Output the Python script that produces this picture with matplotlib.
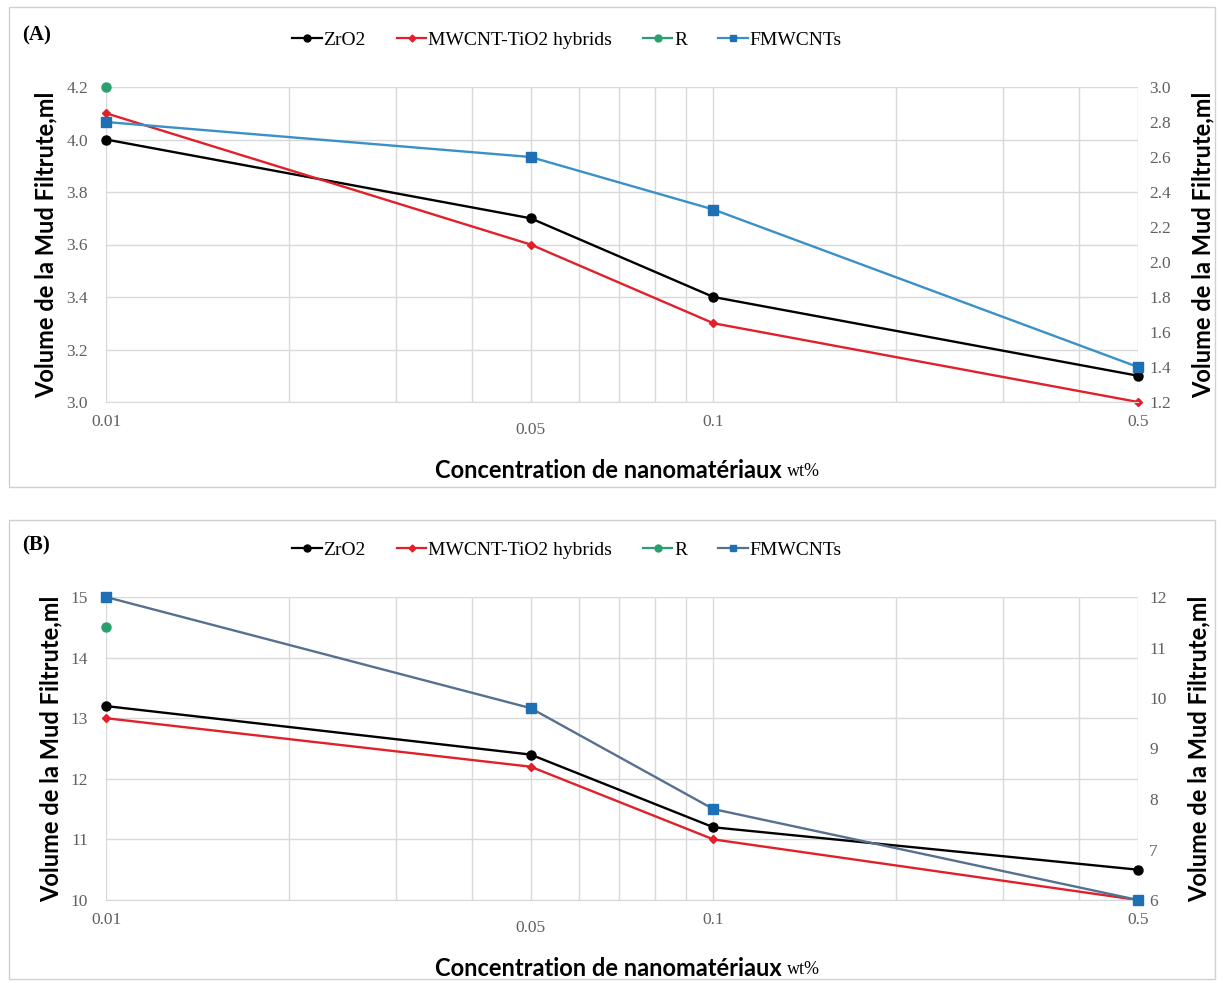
import numpy as np
import matplotlib.pyplot as plt
from matplotlib.patches import Rectangle
from matplotlib.lines import Line2D
from matplotlib.ticker import FixedLocator, NullFormatter, LogLocator

# data
conc = [0.01, 0.05, 0.1, 0.5]
x_ticks = [0.01, 0.05, 0.1, 0.5]
x_tick_labels = ['0.01', '0.05', '0.1', '0.5']

a_zro2 = [4.0, 3.7, 3.4, 3.1]
a_mwcnt = [4.1, 3.6, 3.3, 3.0]
a_r = [4.2]
a_fmwcnt = [2.8, 2.6, 2.3, 1.4]  # right axis

b_zro2 = [13.2, 12.4, 11.2, 10.5]
b_mwcnt = [13.0, 12.2, 11.0, 10.0]
b_r = [14.5]
b_fmwcnt = [12.0, 9.8, 7.8, 6.0]  # right axis

a_left_ticks = [3.0, 3.2, 3.4, 3.6, 3.8, 4.0, 4.2]
a_right_ticks = [1.2, 1.4, 1.6, 1.8, 2.0, 2.2, 2.4, 2.6, 2.8, 3.0]
b_left_ticks = [10, 11, 12, 13, 14, 15]
b_right_ticks = [6, 7, 8, 9, 10, 11, 12]

c_zro2 = 'black'
c_mwcnt = '#e0202a'
c_r = '#2aa070'
c_fm_mark = '#1f6fb4'

serif = 'Liberation Serif'
tick_col = '#606060'
grid_col = '#d9d9d9'

W, H = 1223, 983
fig = plt.figure(figsize=(W / 100, H / 100), dpi=100)


def px_box(l, t, r, b):
    return [l / W, 1 - b / H, (r - l) / W, (b - t) / H]


def draw_panel(frame, top, bot, label, zro2, mwcnt, r, fm, lticks, rticks, fm_line, fmt):
    # outer frame
    fl, ft, fr, fb = frame
    fig.patches.append(Rectangle((fl / W, 1 - fb / H), (fr - fl) / W, (fb - ft) / H,
                                 transform=fig.transFigure, fill=False, edgecolor='#d0d0d0', lw=1))
    ax = fig.add_axes(px_box(106, top, 1138, bot))
    ax2 = ax.twinx()
    ax.set_xscale('log')
    ax.set_xlim(0.01, 0.5)
    ax.set_ylim(lticks[0], lticks[-1])
    ax2.set_ylim(rticks[0], rticks[-1])

    ax.xaxis.set_minor_locator(LogLocator(base=10, subs=np.arange(1, 10)))
    ax.xaxis.set_minor_formatter(NullFormatter())
    ax.xaxis.set_major_locator(FixedLocator(x_ticks))
    ax.set_xticklabels(x_tick_labels)
    ax.grid(True, which='minor', axis='x', color=grid_col, lw=1)
    ax.grid(True, which='major', axis='x', color=grid_col, lw=1)
    ax.grid(True, which='major', axis='y', color=grid_col, lw=1)
    ax.set_yticks(lticks)
    ax.set_yticklabels([fmt.format(v) for v in lticks])
    ax2.set_yticks(rticks)
    ax2.set_yticklabels([fmt.format(v) for v in rticks])

    for a in (ax, ax2):
        for s in a.spines.values():
            s.set_visible(False)
        a.tick_params(which='both', length=0, labelsize=12.5, labelcolor=tick_col, pad=13)
        for t in a.get_yticklabels():
            t.set_fontfamily(serif)
    ax2.tick_params(pad=8)
    ax.spines['bottom'].set_visible(True)
    ax.spines['bottom'].set_color(grid_col)
    for i, t in enumerate(ax.get_xticklabels()):
        t.set_fontfamily(serif)
        t.set_color(tick_col)
        if x_tick_labels[i] == '0.05':
            t.set_y(-0.025)
    ax.tick_params(axis='x', pad=9)

    ax.plot(conc, zro2, color=c_zro2, marker='o', ms=6.5, lw=1.7, clip_on=False)
    ax.plot(conc, mwcnt, color=c_mwcnt, marker='D', ms=4.5, lw=1.7, clip_on=False)
    ax.plot(conc[:1], r, color=c_r, marker='o', ms=6.5, lw=1.7, clip_on=False)
    ax2.plot(conc, fm, color=fm_line, lw=1.7, clip_on=False)
    ax2.plot(conc, fm, ls='none', marker='s', ms=6.5, color=c_fm_mark, clip_on=False)

    ylab = 'Volume de la Mud Filtrute,ml'
    ax.set_ylabel(ylab, fontsize=17, fontweight='bold', fontfamily='Lato', labelpad=6)
    ax2.set_ylabel(ylab, fontsize=17, fontweight='bold', fontfamily='Lato', labelpad=15)

    # panel letter
    fig.text(22 / W, 1 - (top - 52) / H, label, fontsize=15, fontweight='bold',
             fontfamily=serif, va='center', ha='left')

    # legend
    handles = [
        Line2D([], [], color=c_zro2, marker='o', ms=5, lw=1.6),
        Line2D([], [], color=c_mwcnt, marker='D', ms=3.5, lw=1.6),
        Line2D([], [], color=c_r, marker='o', ms=5, lw=1.6),
        Line2D([], [], color=fm_line, marker='s', ms=5, mfc=c_fm_mark, mec=c_fm_mark, lw=1.6),
    ]
    fig.legend(handles, ['ZrO2', 'MWCNT-TiO2 hybrids', 'R', 'FMWCNTs'],
               loc='center', bbox_to_anchor=(567 / W, 1 - (top - 47) / H), ncol=4,
               frameon=False, prop={'family': serif, 'size': 14}, handlelength=1.5,
               handletextpad=0.1, columnspacing=1.6)

    # x label
    yl = 1 - (bot + 68) / H
    fig.text(782 / W, yl, 'Concentration de nanomatériaux', fontsize=17, fontweight='bold',
             fontfamily='Lato', ha='right', va='center')
    fig.text(787 / W, yl - 0.002, 'wt%', fontsize=13, fontfamily=serif, ha='left', va='center')
    return ax, ax2


draw_panel((9, 7, 1215, 487), 87, 402, '(A)', a_zro2, a_mwcnt, a_r, a_fmwcnt,
           a_left_ticks, a_right_ticks, '#3a90c8', '{:.1f}')
draw_panel((9, 520, 1215, 979), 597, 900, '(B)', b_zro2, b_mwcnt, b_r, b_fmwcnt,
           b_left_ticks, b_right_ticks, '#56708f', '{:d}')

fig.savefig('out.png', dpi=100)
